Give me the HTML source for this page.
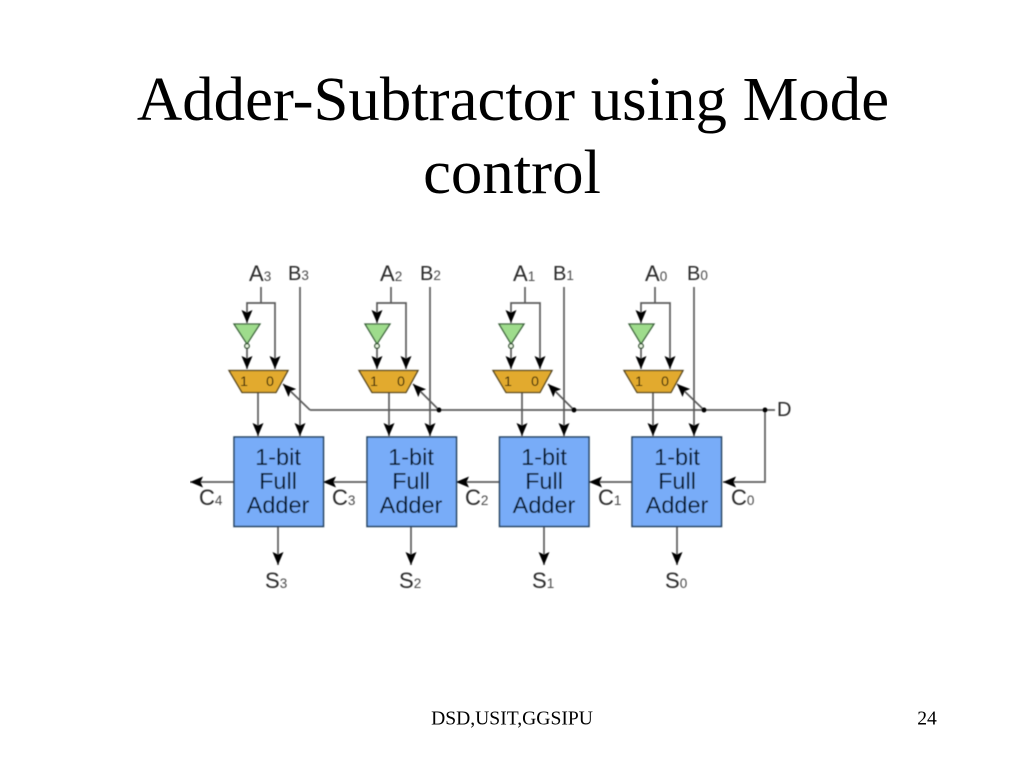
<!DOCTYPE html>
<html><head><meta charset="utf-8"><style>
html,body{margin:0;padding:0;background:#fff}
body{width:1024px;height:768px;overflow:hidden;position:relative}
svg{position:absolute;left:0;top:0}
.t{font-family:"Liberation Serif",serif;fill:#000}
.l{font-family:"Liberation Sans",sans-serif;fill:#2a2a2a}
.s{font-size:13.500px;fill:#4a4a4a}
.b{font-family:"Liberation Sans",sans-serif;font-size:23.500px;fill:#06152b;text-anchor:middle}
.m{font-family:"Liberation Sans",sans-serif;font-size:14px;fill:#1e1502;text-anchor:middle}
</style></head><body>
<svg width="1024" height="768" viewBox="0 0 1024 768" xmlns="http://www.w3.org/2000/svg">
<defs>
<filter id="f" x="0" y="0" width="100%" height="100%"><feGaussianBlur stdDeviation="0.55"/></filter>
<marker id="d" markerUnits="userSpaceOnUse" markerWidth="15" markerHeight="13" refX="13" refY="5.500" orient="auto"><path d="M0 0L13 5.500L0 11L2.500 5.500Z" fill="#000"/></marker>
</defs>
<text class="t" x="513" y="120" font-size="62.800" text-anchor="middle">Adder-Subtractor using Mode</text>
<text class="t" x="512" y="193" font-size="62.800" text-anchor="middle">control</text>
<text class="t" x="512" y="724.500" font-size="19.600" text-anchor="middle">DSD,USIT,GGSIPU</text>
<text class="t" x="927" y="724.500" font-size="19.600" text-anchor="middle">24</text>
<g filter="url(#f)">
<g fill="none" stroke="#5c5c5c" stroke-width="1.700">
<!-- D bus -->
<path d="M310 410H775"/>
<path d="M310 410L283 384" marker-end="url(#d)"/>
<path d="M439 410L413 384" marker-end="url(#d)"/>
<path d="M574 410L548 384" marker-end="url(#d)"/>
<path d="M704 410L677 384" marker-end="url(#d)"/>
<path d="M765 410V482H723" marker-end="url(#d)"/>
<!-- column 3 -->
<path d="M261 287V303"/><path d="M261 303H247V323" marker-end="url(#d)"/><path d="M261 303H275V369" marker-end="url(#d)"/>
<path d="M247 348V369" marker-end="url(#d)"/><path d="M258 393V436" marker-end="url(#d)"/><path d="M300 287V436" marker-end="url(#d)"/>
<!-- column 2 -->
<path d="M391 287V303"/><path d="M391 303H377V323" marker-end="url(#d)"/><path d="M391 303H406V369" marker-end="url(#d)"/>
<path d="M377 348V369" marker-end="url(#d)"/><path d="M389 393V436" marker-end="url(#d)"/><path d="M430 287V436" marker-end="url(#d)"/>
<!-- column 1 -->
<path d="M525 287V303"/><path d="M525 303H511V323" marker-end="url(#d)"/><path d="M525 303H540V369" marker-end="url(#d)"/>
<path d="M511 348V369" marker-end="url(#d)"/><path d="M522 393V436" marker-end="url(#d)"/><path d="M564 287V436" marker-end="url(#d)"/>
<!-- column 0 -->
<path d="M655 287V303"/><path d="M655 303H641V323" marker-end="url(#d)"/><path d="M655 303H670V369" marker-end="url(#d)"/>
<path d="M641 348V369" marker-end="url(#d)"/><path d="M653 393V436" marker-end="url(#d)"/><path d="M694 287V436" marker-end="url(#d)"/>
<!-- carry -->
<path d="M234 482H190" marker-end="url(#d)"/>
<path d="M367 482H323" marker-end="url(#d)"/>
<path d="M499 482H456" marker-end="url(#d)"/>
<path d="M632 482H589" marker-end="url(#d)"/>
<!-- sums -->
<path d="M278 526V565" marker-end="url(#d)"/>
<path d="M411 526V565" marker-end="url(#d)"/>
<path d="M544 526V565" marker-end="url(#d)"/>
<path d="M677 526V565" marker-end="url(#d)"/>
</g>
<g fill="#000">
<circle cx="439" cy="410" r="2.500"/><circle cx="574" cy="410" r="2.500"/><circle cx="704" cy="410" r="2.500"/><circle cx="765" cy="410" r="2.500"/>
</g>
<!-- inverters -->
<g fill="#9edc8c" stroke="#3a623a" stroke-width="1.300">
<path d="M234 324H260L247 344Z"/><path d="M365 324H390L377 344Z"/><path d="M499 324H524L511 344Z"/><path d="M629 324H654L641 344Z"/>
</g>
<g fill="#e8f5e0" stroke="#2f4f2f" stroke-width="1.300">
<circle cx="247" cy="346" r="2.300"/><circle cx="377" cy="346" r="2.300"/><circle cx="511" cy="346" r="2.300"/><circle cx="641" cy="346" r="2.300"/>
</g>
<!-- muxes -->
<g fill="#e2aa2e" stroke="#4e3f1a" stroke-width="1.300">
<path d="M229 370.500H288L276 392.500H242Z"/><path d="M359 370.500H418L406 392.500H372Z"/><path d="M493 370.500H552L540 392.500H506Z"/><path d="M624 370.500H683L671 392.500H637Z"/>
</g>
<text class="m" x="244" y="386">1</text><text class="m" x="270" y="386">0</text>
<text class="m" x="374" y="386">1</text><text class="m" x="401" y="386">0</text>
<text class="m" x="508" y="386">1</text><text class="m" x="535" y="386">0</text>
<text class="m" x="639" y="386">1</text><text class="m" x="665" y="386">0</text>
<!-- adders -->
<g fill="#78acf8" stroke="#24405f" stroke-width="1.500">
<rect x="234" y="437" width="89.500" height="89.500"/><rect x="367" y="437" width="89.500" height="89.500"/><rect x="499.500" y="437" width="89.500" height="89.500"/><rect x="632" y="437" width="89.500" height="89.500"/>
</g>
<text class="b" x="278" y="465">1-bit</text><text class="b" x="278" y="489">Full</text><text class="b" x="278" y="513">Adder</text>
<text class="b" x="411" y="465">1-bit</text><text class="b" x="411" y="489">Full</text><text class="b" x="411" y="513">Adder</text>
<text class="b" x="544" y="465">1-bit</text><text class="b" x="544" y="489">Full</text><text class="b" x="544" y="513">Adder</text>
<text class="b" x="677" y="465">1-bit</text><text class="b" x="677" y="489">Full</text><text class="b" x="677" y="513">Adder</text>
<!-- labels -->
<g class="l" font-size="22">
<text x="249" y="281">A<tspan class="s">3</tspan></text>
<text x="288" y="280" font-size="20">B<tspan class="s">3</tspan></text>
<text x="380" y="281">A<tspan class="s">2</tspan></text>
<text x="420" y="280" font-size="20">B<tspan class="s">2</tspan></text>
<text x="513" y="281">A<tspan class="s">1</tspan></text>
<text x="553" y="280" font-size="20">B<tspan class="s">1</tspan></text>
<text x="645" y="281">A<tspan class="s">0</tspan></text>
<text x="687" y="280" font-size="20">B<tspan class="s">0</tspan></text>
<text x="777" y="416" font-size="20">D</text>
<text x="199" y="505">C<tspan class="s">4</tspan></text>
<text x="332" y="505">C<tspan class="s">3</tspan></text>
<text x="465" y="505">C<tspan class="s">2</tspan></text>
<text x="598" y="505">C<tspan class="s">1</tspan></text>
<text x="731" y="505">C<tspan class="s">0</tspan></text>
<text x="265" y="588">S<tspan class="s">3</tspan></text>
<text x="399" y="588">S<tspan class="s">2</tspan></text>
<text x="532" y="588">S<tspan class="s">1</tspan></text>
<text x="665" y="588">S<tspan class="s">0</tspan></text>
</g>
</g>
</svg>
</body></html>
